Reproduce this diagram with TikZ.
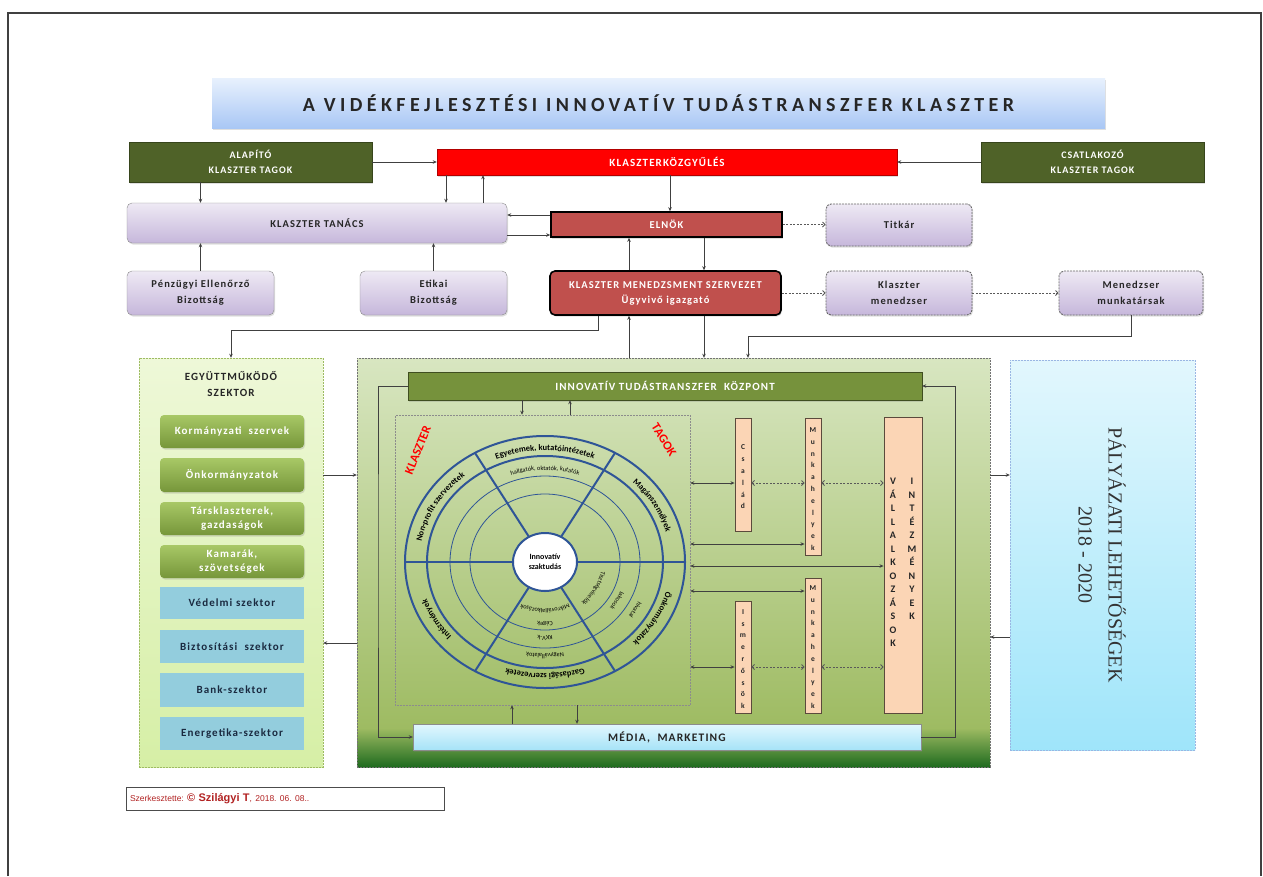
\documentclass[tikz,border=0pt]{standalone}
\usepackage{fontspec}
\setmainfont{Carlito}[LetterSpace=10]
\newfontfamily\titlefont[LetterSpace=22]{Carlito}
\newfontfamily\ringF{Carlito}
\newfontfamily\serifF{Liberation Serif}
\newfontfamily\arialF{Liberation Sans}
\usetikzlibrary{arrows.meta,decorations.text,shadows}
\definecolor{olive}{HTML}{4F6228}
\definecolor{redK}{HTML}{FF0000}
\definecolor{redbox}{HTML}{C0504D}
\definecolor{lavT}{HTML}{EEE9F4}
\definecolor{lavB}{HTML}{C6B7DB}
\definecolor{tT}{HTML}{E8F1FD}
\definecolor{tB}{HTML}{A9C7F5}
\definecolor{gA}{HTML}{D8E6C1}
\definecolor{gB}{HTML}{9EBB62}
\definecolor{gC}{HTML}{1F6B1F}
\definecolor{kozp}{HTML}{76923C}
\definecolor{giT}{HTML}{A8C866}
\definecolor{giB}{HTML}{76963A}
\definecolor{biC}{HTML}{93CDDD}
\definecolor{peachF}{HTML}{FBD5B5}
\definecolor{peachD}{HTML}{5B4A3C}
\definecolor{medT}{HTML}{E2F7FE}
\definecolor{medB}{HTML}{A6E3F7}
\definecolor{palT}{HTML}{E2F7FD}
\definecolor{palB}{HTML}{9FE5FA}
\definecolor{ringblue}{HTML}{2F5597}
\definecolor{egyT}{HTML}{EEF8D8}
\definecolor{egyB}{HTML}{D6EFA6}
\definecolor{darkred}{HTML}{B22222}
\definecolor{navyT}{HTML}{1A2A40}
\newcommand\rfA{\ringF\fontsize{8.5}{9}\selectfont\bfseries}
\newcommand\rfB{\ringF\fontsize{6.3}{7}\selectfont}
\newcommand\ringtext[5]{%
  \path[decorate,decoration={text along path,text align=center,text={#5}}]
    (#1:#3pt and #4pt) arc[start angle=#1,end angle=#2,x radius=#3pt,y radius=#4pt];}
\begin{document}
\begin{tikzpicture}[x=1pt,y=-1pt,
  every node/.style={inner sep=1pt},
  sz/.style 2 args={minimum width=#1pt,minimum height=#2pt},
  shad/.style={drop shadow={opacity=0.25,shadow xshift=1pt,shadow yshift=-1.5pt}},
  oliveB/.style={draw=olive!70!black,fill=olive,text=white,font=\fontsize{10}{15}\selectfont\bfseries,align=center,shad},
  lav/.style={draw=black!45,top color=lavT,bottom color=lavB,rounded corners=5pt,align=center,font=\fontsize{10.5}{16}\selectfont\bfseries,text=black!85,shad},
  lavd/.style={lav,draw=black!60,line width=0.9pt,dash pattern=on 2pt off 1pt},
  redB/.style={draw=black,line width=1.6pt,fill=redbox,text=white,align=center,font=\fontsize{10.5}{15}\selectfont\bfseries,shad},
  gitem/.style={top color=giT,bottom color=giB,rounded corners=4pt,text=white,font=\fontsize{11}{13.5}\selectfont\bfseries,align=center,shad},
  bitem/.style={fill=biC,text=navyT,font=\fontsize{11}{13}\selectfont\bfseries,align=center},
  peach/.style={draw=peachD,line width=0.9pt,fill=peachF},
  stk/.style={font=\ringF\fontsize{7.5}{11.8}\selectfont\bfseries,align=center,text=black!85},
  arr/.style={draw=black!75,line width=0.7pt,-{Stealth[length=4pt,width=3.5pt]}},
  darrow/.style={draw=black!75,line width=0.8pt,{Stealth[length=4pt,width=3.5pt]}-{Stealth[length=4pt,width=3.5pt]}},
  ddash/.style={draw=black!65,line width=0.8pt,dash pattern=on 2pt off 1.5pt,{Straight Barb[length=2.5pt,width=5pt]}-{Straight Barb[length=2.5pt,width=5pt]}},
  dasharr/.style={draw=black!65,line width=0.8pt,dash pattern=on 2pt off 1.5pt,-{Straight Barb[length=2.5pt,width=5pt]}},
  ring/.style={draw=ringblue,line width=2pt},
  thinring/.style={draw=ringblue,line width=0.8pt}]
\useasboundingbox (0,0) rectangle (1263,876);
\fill[white] (0,0) rectangle (1263,876);
\draw[line width=1.2pt,black!75] (8,876) -- (8,13) -- (1261,13) -- (1261,876);

% coordinates for connector positions
\foreach \v in {446,483,512,522,570,577,629,670,704}{\coordinate (c\v) at (\v,0);}
\foreach \v in {215,235,475,483,544,566,591,637,643,667}{\coordinate (y\v) at (0,\v);}

% title
\node[sz={893}{50},top color=tT,bottom color=tB,shad,text=black!85] (title) at (658.5,103)
  {\titlefont\bfseries\fontsize{20}{22}\selectfont A VIDÉKFEJLESZTÉSI INNOVATÍV TUDÁSTRANSZFER KLASZTER};

% row 1
\node[oliveB,sz={243}{40}] (alapito) at (250.5,162) {ALAPÍTÓ\\KLASZTER TAGOK};
\node[sz={460}{26},fill=redK,draw=red!70!black,text=white,font=\fontsize{11}{12}\selectfont\bfseries,shad] (kozgy) at (667,162) {KLASZTERKÖZGYŰLÉS};
\node[oliveB,sz={223}{40}] (csatl) at (1092.5,162) {CSATLAKOZÓ\\KLASZTER TAGOK};

% row 2
\node[lav,sz={380}{40}] (tanacs) at (317,223) {KLASZTER TANÁCS};
\node[redB,sz={231}{25}] (elnok) at (666.5,224.5) {ELNÖK};
\node[lavd,sz={146}{42}] (titkar) at (899,225) {Titkár};

% row 3
\node[lav,sz={147}{44}] (penz) at (200.5,293) {Pénzügyi Ellenőrző\\Bizottság};
\node[lav,sz={147}{44}] (etikai) at (433.5,293) {Etikai\\Bizottság};
\node[redB,sz={231}{44},rounded corners=5pt] (mgmt) at (665.5,293) {KLASZTER MENEDZSMENT SZERVEZET\\Ügyvivő igazgató};
\node[lavd,sz={146}{44}] (kmen) at (899,293) {Klaszter\\menedzser};
\node[lavd,sz={144}{44}] (munkat) at (1131,293) {Menedzser\\munkatársak};

% left panel
\node[sz={184}{409},top color=egyT,bottom color=egyB,draw=gB,dash pattern=on 2pt off 1pt] (egy) at (231,562.5) {};
\node[font=\fontsize{11}{16}\selectfont\bfseries,align=center,text=black!85] (egytitle) at (231,384) {EGYÜTTMŰKÖDŐ\\SZEKTOR};
\node[gitem,sz={144}{33}] (kormany) at (232,431.5) {Kormányzati \ szervek};
\node[gitem,sz={144}{34}] (onkorm) at (232,475) {Önkormányzatok};
\node[gitem,sz={144}{33}] (tarskl) at (232,518.5) {Társklaszterek,\\gazdaságok};
\node[gitem,sz={144}{33}] (kamara) at (232,561.5) {Kamarák,\\szövetségek};
\node[bitem,sz={144}{32}] (vedelmi) at (232,603) {Védelmi szektor};
\node[bitem,sz={144}{33}] (bizt) at (232,646.5) {Biztosítási \ szektor};
\node[bitem,sz={144}{34}] (bank) at (232,690) {Bank-szektor};
\node[bitem,sz={144}{33}] (energ) at (232,733.5) {Energetika-szektor};

% central green area
\fill[top color=gA,bottom color=gB] (357,358) rectangle (990,728);
\fill[top color=gB,bottom color=gC] (357,728) rectangle (990,767);
\node[sz={633}{409},draw=black!55,dash pattern=on 2pt off 1pt] (green) at (673.5,562.5) {};
\node[sz={514}{28},fill=kozp,draw=olive!80!black,text=white,font=\fontsize{11}{12}\selectfont\bfseries,shad] (kozpont) at (665,386) {INNOVATÍV TUDÁSTRANSZFER \ KÖZPONT};
\node[sz={508}{26},top color=medT,bottom color=medB,draw=black!45,text=black!85,font=\fontsize{11.5}{12}\selectfont\bfseries,shad] (media) at (667,737) {MÉDIA, \ MARKETING};
\node[sz={295}{290},draw=black!45,densely dotted,line width=0.5pt] (inner) at (542.5,560) {};

% circle
\begin{scope}[shift={(545,562)}]
  \draw[ring] (0,0) circle[x radius=140pt,y radius=126pt];
  \draw[ring] (0,0) circle[x radius=118pt,y radius=106pt];
  \draw[thinring] (0,0) circle[x radius=95pt,y radius=86pt];
  \draw[thinring] (0,0) circle[x radius=75pt,y radius=68pt];
  \foreach \a in {0,60,...,300}{\draw[ring] (\a:32pt and 29pt) -- (\a:140pt and 126pt);}
  \filldraw[fill=white,draw=ringblue,line width=2pt] (0,0) circle[x radius=32pt,y radius=29pt];
  \ringtext{122}{58}{125.5}{111.5}{|\rfA|Egyetemek, kutatóintézetek}
  \ringtext{60}{0}{125.5}{111.5}{|\rfA|Magánszemélyek}
  \ringtext{0}{-60}{125.5}{111.5}{|\rfA|Önkormányzatok}
  \ringtext{-58}{-122}{125.5}{111.5}{|\rfA|Gazdasági szervezetek}
  \ringtext{-120}{-180}{125.5}{111.5}{|\rfA|Intézmények}
  \ringtext{182}{118}{125.5}{111.5}{|\rfA|Non-profit szervezetek}
  \ringtext{127}{53}{103}{92}{|\rfB|hallgatók, oktatók, kutatók}
  \ringtext{-5}{-55}{103}{92}{|\rfB|hivatal}
  \ringtext{-5}{-55}{82}{74}{|\rfB|lakosok}
  \ringtext{-3}{-57}{57}{52}{|\rfB|Tisztségviselők}
  \ringtext{-60}{-120}{103}{92}{|\rfB|Nagyvállalatok}
  \ringtext{-60}{-120}{82}{74}{|\rfB|KKV-k}
  \ringtext{-60}{-120}{67}{60}{|\rfB|Cégek}
  \ringtext{-55}{-125}{52}{47}{|\rfB|Mikrovállalkozások}
\end{scope}
\node[font=\ringF\fontsize{8}{9.5}\selectfont\bfseries,align=center] (szaktudas) at (545,562) {Innovatív\\szaktudás};
\node[rotate=68,text=redK,font=\ringF\fontsize{12.5}{13}\selectfont\bfseries] (klaszterlbl) at (418,450) {KLASZTER};
\node[rotate=-58,text=redK,font=\ringF\fontsize{12.5}{13}\selectfont\bfseries] (tagoklbl) at (664,440) {TAGOK};

% right stacked boxes
\node[peach,sz={16}{113}] (csalad) at (743,474.5) {};
\node[stk] (csaladt) at (743,477) {C\\s\\a\\l\\á\\d};
\node[peach,sz={16}{137}] (munka1) at (813,486.5) {};
\node[stk] (munka1t) at (813,489) {M\\u\\n\\k\\a\\h\\e\\l\\y\\e\\k};
\node[peach,sz={16}{135}] (munka2) at (813,645.5) {};
\node[stk] (munka2t) at (813,647) {M\\u\\n\\k\\a\\h\\e\\l\\y\\e\\k};
\node[peach,sz={16}{112}] (ismer) at (743,657) {};
\node[stk] (ismert) at (743,659) {I\\s\\m\\e\\r\\ő\\s\\ö\\k};
\node[peach,sz={38}{296}] (vall) at (903,565) {};
\node[font=\ringF\fontsize{10}{13.5}\selectfont\bfseries,align=center,anchor=north,text=black!85] (vallt) at (893,477) {V\\Á\\L\\L\\A\\L\\K\\O\\Z\\Á\\S\\O\\K};
\node[font=\ringF\fontsize{10}{13.5}\selectfont\bfseries,align=center,anchor=north,text=black!85] (intt) at (912,477) {I\\N\\T\\É\\Z\\M\\É\\N\\Y\\E\\K};

% right panel
\node[sz={185}{390},top color=palT,bottom color=palB,draw=cyan!50!blue!40,dash pattern=on 2pt off 1pt] (pal) at (1102.5,555) {};
\node[rotate=-90,font=\serifF\fontsize{20}{30}\selectfont,align=center,text=black!80] (paltxt) at (1102,555) {PÁLYÁZATI LEHETŐSÉGEK\\2018 - 2020};

% footer
\node[draw=black!70,line width=0.8pt,minimum height=23pt,text width=310pt,inner sep=4pt,align=left,text=darkred] (footer) at (285,798.5)
  {\arialF\frenchspacing\fontsize{8.5}{10}\selectfont Szerkesztette: {\fontsize{11}{12}\selectfont\bfseries © Szilágyi T}, 2018. 06. 08..};

% connectors
\draw[arr] (alapito) -- (kozgy);
\draw[arr] (csatl) -- (kozgy);
\draw[arr] (alapito.south -| penz.north) -- (tanacs.north -| penz.north);
\draw[arr] (kozgy.south -| c446) -- (tanacs.north -| c446);
\draw[arr] (tanacs.north -| c483) -- (kozgy.south -| c483);
\draw[arr] (kozgy.south -| c670) -- (elnok.north -| c670);
\draw[arr] (elnok.west |- y215) -- (tanacs.east |- y215);
\draw[arr] (tanacs.east |- y235) -- (elnok.west |- y235);
\draw[dasharr] (elnok.east) -- (titkar.west |- elnok.east);
\draw[arr] (penz.north) -- (penz.north |- tanacs.south);
\draw[arr] (etikai.north) -- (etikai.north |- tanacs.south);
\draw[arr] (mgmt.north -| c629) -- (elnok.south -| c629);
\draw[arr] (elnok.south -| c704) -- (mgmt.north -| c704);
\draw[dasharr] (mgmt.east) -- (kmen.west);
\draw[dasharr] (kmen.east) -- (munkat.west);
\coordinate (j1) at (598,330);
\draw[arr] (mgmt.south -| j1) -- (j1) -| (egy.north);
\draw[arr] (green.north -| c629) -- (mgmt.south -| c629);
\draw[arr] (mgmt.south -| c704) -- (green.north -| c704);
\coordinate (j2) at (748,336);
\draw[arr] (munkat.south) |- (j2) -- (green.north -| j2);
\draw[arr] (egy.east |- y475) -- (green.west |- y475);
\draw[arr] (green.west |- y643) -- (egy.east |- y643);
\draw[arr] (green.east |- y475) -- (pal.west |- y475);
\draw[arr] (pal.west |- y637) -- (green.east |- y637);
\draw[arr] (kozpont.south -| c522) -- (inner.north -| c522);
\draw[arr] (inner.north -| c570) -- (kozpont.south -| c570);
\draw[arr] (media.north -| c512) -- (inner.south -| c512);
\draw[arr] (inner.south -| c577) -- (media.north -| c577);
\coordinate (jl) at (378,560);
\coordinate (jr) at (955,560);
\draw[arr] (kozpont.west) -| (jl) |- (media.west);
\draw[arr] (media.east) -| (jr) |- (kozpont.east);
\draw[darrow] (inner.east |- y483) -- (csalad.west |- y483);
\draw[ddash] (csalad.east |- y483) -- (munka1.west |- y483);
\draw[ddash] (munka1.east |- y483) -- (vall.west |- y483);
\draw[darrow] (inner.east |- y544) -- (munka1.west |- y544);
\draw[darrow] (inner.east |- y566) -- (vall.west |- y566);
\draw[darrow] (inner.east |- y591) -- (munka2.west |- y591);
\draw[darrow] (inner.east |- y667) -- (ismer.west |- y667);
\draw[ddash] (ismer.east |- y667) -- (munka2.west |- y667);
\draw[ddash] (munka2.east |- y667) -- (vall.west |- y667);
\end{tikzpicture}
\end{document}
